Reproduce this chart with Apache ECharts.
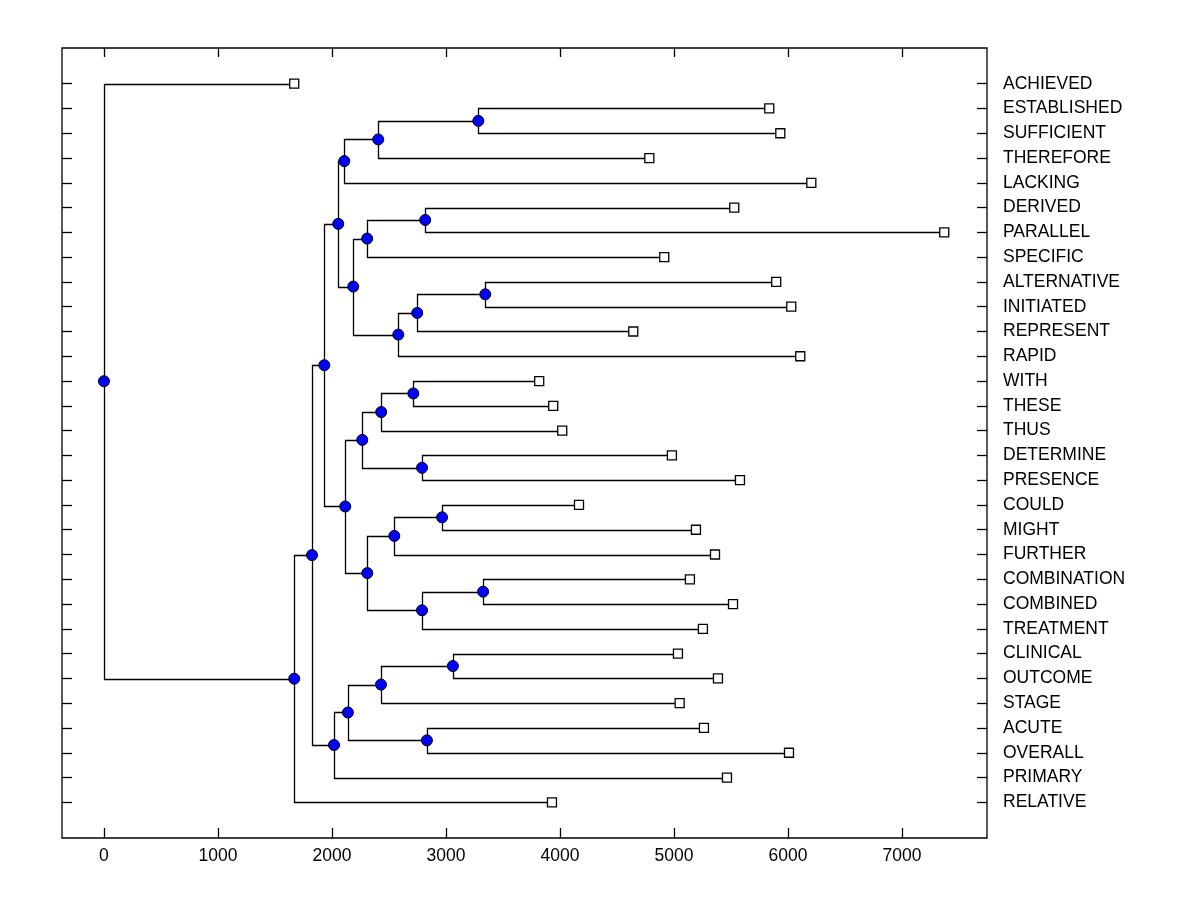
<!DOCTYPE html>
<html>
<head>
<meta charset="utf-8">
<script src="https://cdn.jsdelivr.net/npm/echarts@6/dist/echarts.min.js"></script>
<style>
  html, body { margin: 0; padding: 0; background: #fff; }
  #main { width: 1200px; height: 900px; }
</style>
</head>
<body>
<div id="main"></div>
<script>
// leaves, top to bottom
const leafNames = [
  'ACHIEVED', 'ESTABLISHED', 'SUFFICIENT', 'THEREFORE', 'LACKING', 'DERIVED',
  'PARALLEL', 'SPECIFIC', 'ALTERNATIVE', 'INITIATED', 'REPRESENT', 'RAPID',
  'WITH', 'THESE', 'THUS', 'DETERMINE', 'PRESENCE', 'COULD', 'MIGHT', 'FURTHER',
  'COMBINATION', 'COMBINED', 'TREATMENT', 'CLINICAL', 'OUTCOME', 'STAGE',
  'ACUTE', 'OVERALL', 'PRIMARY', 'RELATIVE'
];
const leafHeights = [
  1669, 5836, 5933, 4784, 6205, 5529,
  7371, 4915, 5897, 6029, 4643, 6108,
  3818, 3941, 4020, 4982, 5579, 4167, 5193, 5360,
  5140, 5518, 5254, 5035, 5386, 5050,
  5263, 6009, 5465, 3930
];

// merges: ids 0..29 are leaves, merge k gets id 30 + k
const mergeLeft   = [1, 30, 31, 5, 33, 8, 35, 36, 34, 32, 12, 40, 15, 41, 17, 44, 20, 46, 45, 43, 39, 23, 51, 26, 52, 54, 50, 56, 0];
const mergeRight  = [2, 3, 4, 6, 7, 9, 10, 11, 37, 38, 13, 14, 16, 42, 18, 19, 21, 22, 47, 48, 49, 24, 25, 27, 53, 28, 55, 29, 57];
const mergeHeight = [3284, 2406, 2108, 2818, 2309, 3345, 2748, 2582, 2187, 2055,
                     2714, 2432, 2790, 2266, 2966, 2547, 3326, 2790, 2310, 2117,
                     1933, 3061, 2430, 2833, 2140, 2018, 1825, 1669, 0];

const xTicks = [0, 1000, 2000, 3000, 4000, 5000, 6000, 7000];

// node positions: x = height, y = leaf row or mean of children
const nodeX = leafHeights.slice();
const nodeY = leafNames.map((_, i) => i);
mergeHeight.forEach((h, k) => {
  nodeX.push(h);
  nodeY.push((nodeY[mergeLeft[k]] + nodeY[mergeRight[k]]) / 2);
});

const n = leafNames.length;
const elbows = mergeHeight.map((h, k) => {
  const a = mergeLeft[k], b = mergeRight[k];
  return [h, nodeY[n + k], nodeX[a], nodeY[a], nodeX[b], nodeY[b]];
});
const innerPoints = mergeHeight.map((h, k) => [h, nodeY[n + k]]);
const leafPoints = leafHeights.map((h, i) => [h, i]);
const rows = leafNames.map((_, i) => i);

const font = { fontFamily: 'Liberation Sans, Arial, sans-serif', fontSize: 17.5, color: '#000' };
const yRange = { min: -1.44, max: 30.44 };
const xRange = { min: -368, max: 7746 };
const noLine = { show: false, onZero: false };
const tickStyle = { color: '#000', width: 1.3 };

// snap to pixel centre so 1px lines stay crisp
const snap = p => [Math.round(p[0]) + 0.5, Math.round(p[1]) + 0.5];

const chart = echarts.init(document.getElementById('main'), null, { renderer: 'canvas' });

chart.setOption({
  animation: false,
  backgroundColor: '#fff',
  grid: {
    left: 62, top: 48, width: 925, height: 790,
    show: true, borderColor: '#000', borderWidth: 1.3
  },
  xAxis: [
    {
      type: 'value', position: 'bottom', ...xRange,
      axisLine: noLine,
      splitLine: { show: false },
      axisTick: { inside: true, length: 10, customValues: xTicks, lineStyle: tickStyle },
      axisLabel: { customValues: xTicks, margin: 9, ...font, formatter: v => String(v) }
    },
    {
      type: 'value', position: 'top', ...xRange,
      axisLine: noLine,
      splitLine: { show: false },
      axisTick: { inside: true, length: 9, customValues: xTicks, lineStyle: tickStyle },
      axisLabel: { show: false }
    }
  ],
  yAxis: [
    {
      type: 'value', position: 'left', inverse: true, ...yRange,
      axisLine: noLine,
      splitLine: { show: false },
      axisTick: { inside: true, length: 10, customValues: rows, lineStyle: tickStyle },
      axisLabel: { show: false }
    },
    {
      type: 'value', position: 'right', inverse: true, ...yRange,
      axisLine: noLine,
      splitLine: { show: false },
      axisTick: { inside: true, length: 10, customValues: rows, lineStyle: tickStyle },
      axisLabel: {
        customValues: rows, margin: 16, align: 'left', ...font,
        formatter: v => leafNames[Math.round(v)] || ''
      }
    }
  ],
  series: [
    {
      type: 'custom',
      name: 'links',
      data: elbows,
      silent: true,
      z: 1,
      renderItem: function (params, api) {
        const h = api.value(0);
        const p1 = snap(api.coord([api.value(2), api.value(3)]));
        const p2 = snap(api.coord([h, api.value(3)]));
        const p3 = snap(api.coord([h, api.value(5)]));
        const p4 = snap(api.coord([api.value(4), api.value(5)]));
        return {
          type: 'polyline',
          shape: { points: [p1, p2, p3, p4] },
          style: { stroke: '#000', lineWidth: 1.3, fill: null }
        };
      }
    },
    {
      type: 'scatter',
      name: 'leaves',
      data: leafPoints,
      symbol: 'rect',
      symbolSize: 9,
      z: 3,
      itemStyle: { color: '#fff', borderColor: '#000', borderWidth: 1.3, opacity: 1 }
    },
    {
      type: 'scatter',
      name: 'nodes',
      data: innerPoints,
      symbol: 'circle',
      symbolSize: 11,
      z: 4,
      itemStyle: { color: '#0000ff', borderColor: '#000', borderWidth: 1, opacity: 1 }
    }
  ]
});
</script>
</body>
</html>
